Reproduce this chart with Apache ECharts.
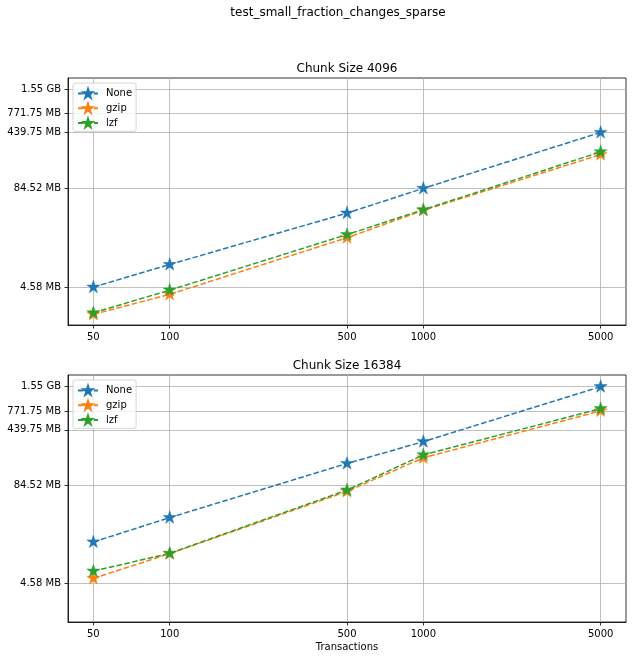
<!DOCTYPE html>
<html>
<head>
<meta charset="utf-8">
<script src="https://cdn.jsdelivr.net/npm/echarts@6/dist/echarts.min.js"></script>
<style>html,body{margin:0;padding:0;background:#fff}#c{width:633px;height:660px}</style>
</head>
<body>
<div id="c"></div>
<script>
// ---- data (sizes in MB) ----
const transactions = [50, 100, 500, 1000, 5000];
const xTicks = [50, 100, 500, 1000, 5000];
const yTicks = [4.58, 84.52, 439.75, 771.75, 1587.2];
const seriesNames = ['None', 'gzip', 'lzf'];
const chunk4096None = [4.58, 8.93, 40.7, 84.52, 439.75];
const chunk4096Gzip = [2.05, 3.70, 19.7, 44.1, 229];
const chunk4096Lzf  = [2.15, 4.19, 21.6, 45.0, 248];
const chunk16384None = [15.7, 32.4, 161.8, 310, 1587.2];
const chunk16384Gzip = [5.32, 11.1, 70.6, 191.7, 771.75];
const chunk16384Lzf  = [6.6, 11.2, 73.4, 209, 826];
const panelTitles = ['Chunk Size 4096', 'Chunk Size 16384'];
const suptitle = 'test_small_fraction_changes_sparse';
const xLabel = 'Transactions';

const colors = ['#1f77b4', '#ff7f0e', '#2ca02c'];
const FONT = 'DejaVu Sans';
const star = 'path://M0,-1L-0.2245,-0.309L-0.9511,-0.309L-0.3633,0.118L-0.5878,0.809L0,0.382L0.5878,0.809L0.3633,0.118L0.9511,-0.309L0.2245,-0.309Z';

function fmtSize(v) {
  if (v >= 1024) return (v / 1024).toFixed(2) + ' GB';
  return v.toFixed(2) + ' MB';
}

const grids = [
  {left: 68, top: 78, width: 558, height: 247},
  {left: 68, top: 375, width: 558, height: 247}
];
const yRanges = [[1.498, 2193], [1.455, 2245]];

const chart = echarts.init(document.getElementById('c'), null, {renderer: 'canvas'});

const xAxes = grids.map((g, i) => ({
  type: 'log', gridIndex: i, logBase: 10,
  min: 50 / Math.pow(10, 0.1), max: 5000 * Math.pow(10, 0.1),
  axisLine: {show: true, lineStyle: {color: '#000', width: 0.8}},
  axisTick: {show: true, length: 3.5, lineStyle: {color: '#000', width: 0.8}, customValues: xTicks},
  axisLabel: {show: true, margin: 7, fontFamily: FONT, fontSize: 10, color: '#000', customValues: xTicks, formatter: v => String(Math.round(v))},
  splitLine: {show: true, lineStyle: {color: '#b0b0b0', width: 0.8}},
  minorTick: {show: false}, minorSplitLine: {show: false},
  name: i === 1 ? xLabel : '', nameLocation: 'middle', nameGap: 20,
  nameTextStyle: {fontFamily: FONT, fontSize: 10, color: '#000'}
}));

const yAxes = grids.map((g, i) => ({
  type: 'log', gridIndex: i, logBase: 10,
  min: yRanges[i][0], max: yRanges[i][1],
  axisLine: {show: true, lineStyle: {color: '#000', width: 0.8}},
  axisTick: {show: true, length: 3.5, lineStyle: {color: '#000', width: 0.8}, customValues: yTicks},
  axisLabel: {show: true, margin: 7, fontFamily: FONT, fontSize: 10, color: '#000', customValues: yTicks, formatter: v => fmtSize(v)},
  splitLine: {show: true, lineStyle: {color: '#b0b0b0', width: 0.8}},
  minorTick: {show: false}, minorSplitLine: {show: false}
}));

const panels = [
  [chunk4096None, chunk4096Gzip, chunk4096Lzf],
  [chunk16384None, chunk16384Gzip, chunk16384Lzf]
];

const series = [];
panels.forEach((arrs, p) => {
  arrs.forEach((vals, k) => {
    series.push({
      type: 'line', name: seriesNames[k], xAxisIndex: p, yAxisIndex: p,
      data: transactions.map((t, j) => [t, vals[j]]),
      symbol: star, symbolSize: [13, 12.4], symbolOffset: [0, -0.6],
      color: colors[k],
      itemStyle: {color: colors[k], borderColor: colors[k], borderWidth: 0.5},
      lineStyle: {color: colors[k], width: 1.5, type: [5.55, 2.4]},
      z: 2 + k, animation: false, silent: true
    });
  });
});

const legendBase = {
  orient: 'vertical', itemWidth: 20, itemHeight: 11, itemGap: 4,
  padding: [5, 4, 3, 4],
  backgroundColor: 'rgba(255,255,255,0.8)', borderColor: '#cccccc', borderWidth: 0.8, borderRadius: 2,
  textStyle: {fontFamily: FONT, fontSize: 10, color: '#000', padding: [0, 0, 0, 3]},
  data: seriesNames
};

const option = {
  backgroundColor: '#fff',
  animation: false,
  grid: grids.map(g => Object.assign({show: true, borderColor: '#000', borderWidth: 0.8, backgroundColor: 'transparent'}, g)),
  xAxis: xAxes,
  yAxis: yAxes,
  series: series,
  legend: [
    Object.assign({left: 73, top: 83}, legendBase),
    Object.assign({left: 73, top: 380}, legendBase)
  ],
  graphic: [
    {type: 'text', x: 338, y: 13, style: {text: suptitle, font: '12px "DejaVu Sans"', fill: '#000', align: 'center', verticalAlign: 'middle'}},
    {type: 'text', x: 347, y: 68.5, style: {text: panelTitles[0], font: '12px "DejaVu Sans"', fill: '#000', align: 'center', verticalAlign: 'middle'}},
    {type: 'text', x: 347, y: 365.5, style: {text: panelTitles[1], font: '12px "DejaVu Sans"', fill: '#000', align: 'center', verticalAlign: 'middle'}}
  ]
};
chart.setOption(option);
</script>
</body>
</html>
